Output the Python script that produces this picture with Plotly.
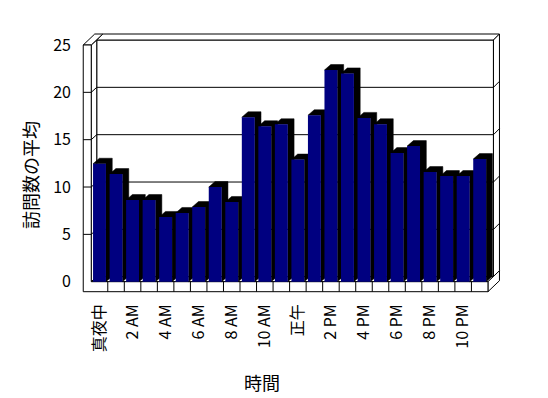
import plotly.graph_objects as go

# ---------------- data ----------------
hours = ["真夜中", "1 AM", "2 AM", "3 AM", "4 AM", "5 AM", "6 AM", "7 AM", "8 AM", "9 AM",
         "10 AM", "11 AM", "正午", "1 PM", "2 PM", "3 PM", "4 PM", "5 PM", "6 PM", "7 PM",
         "8 PM", "9 PM", "10 PM", "11 PM"]
avg_visits = [12.46, 11.37, 8.63, 8.63, 6.84, 7.26, 7.89, 10.0, 8.42, 17.37, 16.42, 16.63,
              12.9, 17.58, 22.36, 22.0, 17.3, 16.63, 13.58, 14.32, 11.58, 11.16, 11.16, 12.95]
y_ticks = [0, 5, 10, 15, 20, 25]
x_title = "時間"
y_title = "訪問数の平均"

# ---------------- geometry (pixels -> data units) ----------------
W, H = 548, 398
OFF = 8                 # page body margin
CAT_PX = 16.53          # pixels per category
VAL_PX = 9.468          # pixels per value unit
X0_PX = 99.5 - OFF      # pixel x of category 0 centre (figure coords)
Y0_PX = 281.7 - OFF     # pixel y of value 0
L, R, T, B = 78 - OFF, 508 - OFF, 28 - OFF, 294 - OFF   # plot area in figure pixels

x_range = [(L - X0_PX) / CAT_PX, (R - X0_PX) / CAT_PX]
y_range = [(Y0_PX - B) / VAL_PX, (Y0_PX - T) / VAL_PX]

def px_to_paper_x(px):
    return (px - OFF - L) / (R - L)

def px_to_paper_y(py):
    return (B - (py - OFF)) / (B - T)

n = len(hours)
xL, xR = -0.5, n - 0.5
yB, yT = 0, max(y_ticks)
dX, dY = 5.5 / CAT_PX, 5.0 / VAL_PX       # depth front plane -> back wall inner face
tX, tY = 6.0 / CAT_PX, 6.0 / VAL_PX       # back wall thickness
wallW = 8.0 / CAT_PX                      # left wall thickness
floorH = 10.0 / VAL_PX                    # floor thickness
bar_w = 0.78
bdx, bdy = 6.3 / CAT_PX, 5.5 / VAL_PX     # bar depth

NAVY = "#000080"
LINE = dict(color="black", width=1)

def poly(pts):
    d = "M " + " L ".join(f"{x},{y}" for x, y in pts) + " Z"
    return dict(type="path", path=d, xref="x", yref="y", fillcolor="white",
                line=LINE, layer="below")

def seg(x0, y0, x1, y1):
    return dict(type="line", x0=x0, y0=y0, x1=x1, y1=y1, xref="x", yref="y",
                line=LINE, layer="below")

shapes = []
# back wall inner face
shapes.append(poly([(xL + dX, yB + dY), (xR + dX, yB + dY), (xR + dX, yT + dY), (xL + dX, yT + dY)]))
# back wall top face
shapes.append(poly([(xL + dX, yT + dY), (xR + dX, yT + dY), (xR + dX + tX, yT + dY + tY),
                    (xL + dX + tX, yT + dY + tY)]))
# back wall right end face
shapes.append(poly([(xR + dX, yB + dY), (xR + dX, yT + dY), (xR + dX + tX, yT + dY + tY),
                    (xR + dX + tX, yB + dY + tY)]))
# floor top face (visible part)
shapes.append(poly([(xL, yB), (xR, yB), (xR + dX, yB + dY), (xL + dX, yB + dY)]))
# floor right end face
shapes.append(poly([(xR, yB - floorH), (xR, yB), (xR + dX + tX, yB + dY + tY),
                    (xR + dX + tX, yB - floorH + dY + tY)]))
# left wall inner face
shapes.append(poly([(xL, yB), (xL, yT), (xL + dX, yT + dY), (xL + dX, yB + dY)]))
# left wall top face
shapes.append(poly([(xL - wallW, yT), (xL, yT), (xL + dX + tX, yT + dY + tY),
                    (xL - wallW + dX + tX, yT + dY + tY)]))
# front L (left wall front + floor front)
shapes.append(poly([(xL - wallW, yT), (xL - wallW, yB - floorH), (xR, yB - floorH), (xR, yB),
                    (xL, yB), (xL, yT)]))
# grid lines
for v in y_ticks[1:-1]:
    shapes.append(seg(xL + dX, v + dY, xR + dX, v + dY))
    shapes.append(seg(xR + dX, v + dY, xR + dX + tX, v + dY + tY))
    shapes.append(seg(xL, v, xL + dX, v + dY))
    shapes.append(seg(xL - wallW, v, xL, v))
# floor front category dividers
for k in range(1, n):
    shapes.append(seg(xL + k, yB - floorH, xL + k, yB))

# ---------------- 3D bars from data ----------------
sx, sy, fx, fy = [], [], [], []
for i, v in enumerate(avg_visits):
    x0, x1 = i - bar_w / 2, i + bar_w / 2
    sx += [x0, x0 + bdx, x1 + bdx, x1 + bdx, x1, x1, x0, None]
    sy += [v, v + bdy, v + bdy, bdy, 0, v, v, None]
    fx += [x0, x1, x1, x0, x0, None]
    fy += [0, 0, v, v, 0, None]

fig = go.Figure()
fig.add_trace(go.Scatter(x=sx, y=sy, mode="lines", fill="toself", fillcolor="black",
                         line=dict(color="black", width=0.5), hoverinfo="skip", showlegend=False))
fig.add_trace(go.Scatter(x=fx, y=fy, mode="lines", fill="toself", fillcolor=NAVY,
                         line=dict(color=NAVY, width=0), hoverinfo="skip", showlegend=False))

FONT = "Noto Sans CJK JP, Noto Sans, sans-serif"
fig.update_layout(
    width=W, height=H,
    margin=dict(l=L, r=W - R, t=T, b=H - B, autoexpand=False),
    paper_bgcolor="white", plot_bgcolor="white",
    font=dict(family=FONT, size=16, color="black"),
    shapes=shapes,
    showlegend=False,
    xaxis=dict(range=x_range, showgrid=False, zeroline=False, showline=False,
               tickmode="array", tickvals=list(range(0, n, 2)), ticktext=hours[0::2],
               tickangle=-90, ticks="", ticklabelstandoff=6, fixedrange=True),
    yaxis=dict(range=y_range, showgrid=False, zeroline=False, showline=False,
               tickmode="array", tickvals=y_ticks, ticks="", ticklabelstandoff=6,
               fixedrange=True),
    annotations=[
        dict(text=x_title, x=px_to_paper_x(262), y=px_to_paper_y(382), xref="paper", yref="paper",
             showarrow=False, font=dict(size=18), xanchor="center", yanchor="middle"),
        dict(text=y_title, x=px_to_paper_x(30), y=px_to_paper_y(175), xref="paper", yref="paper",
             showarrow=False, font=dict(size=18), textangle=-90, xanchor="center", yanchor="middle"),
    ],
)

fig.write_html("out.html")
